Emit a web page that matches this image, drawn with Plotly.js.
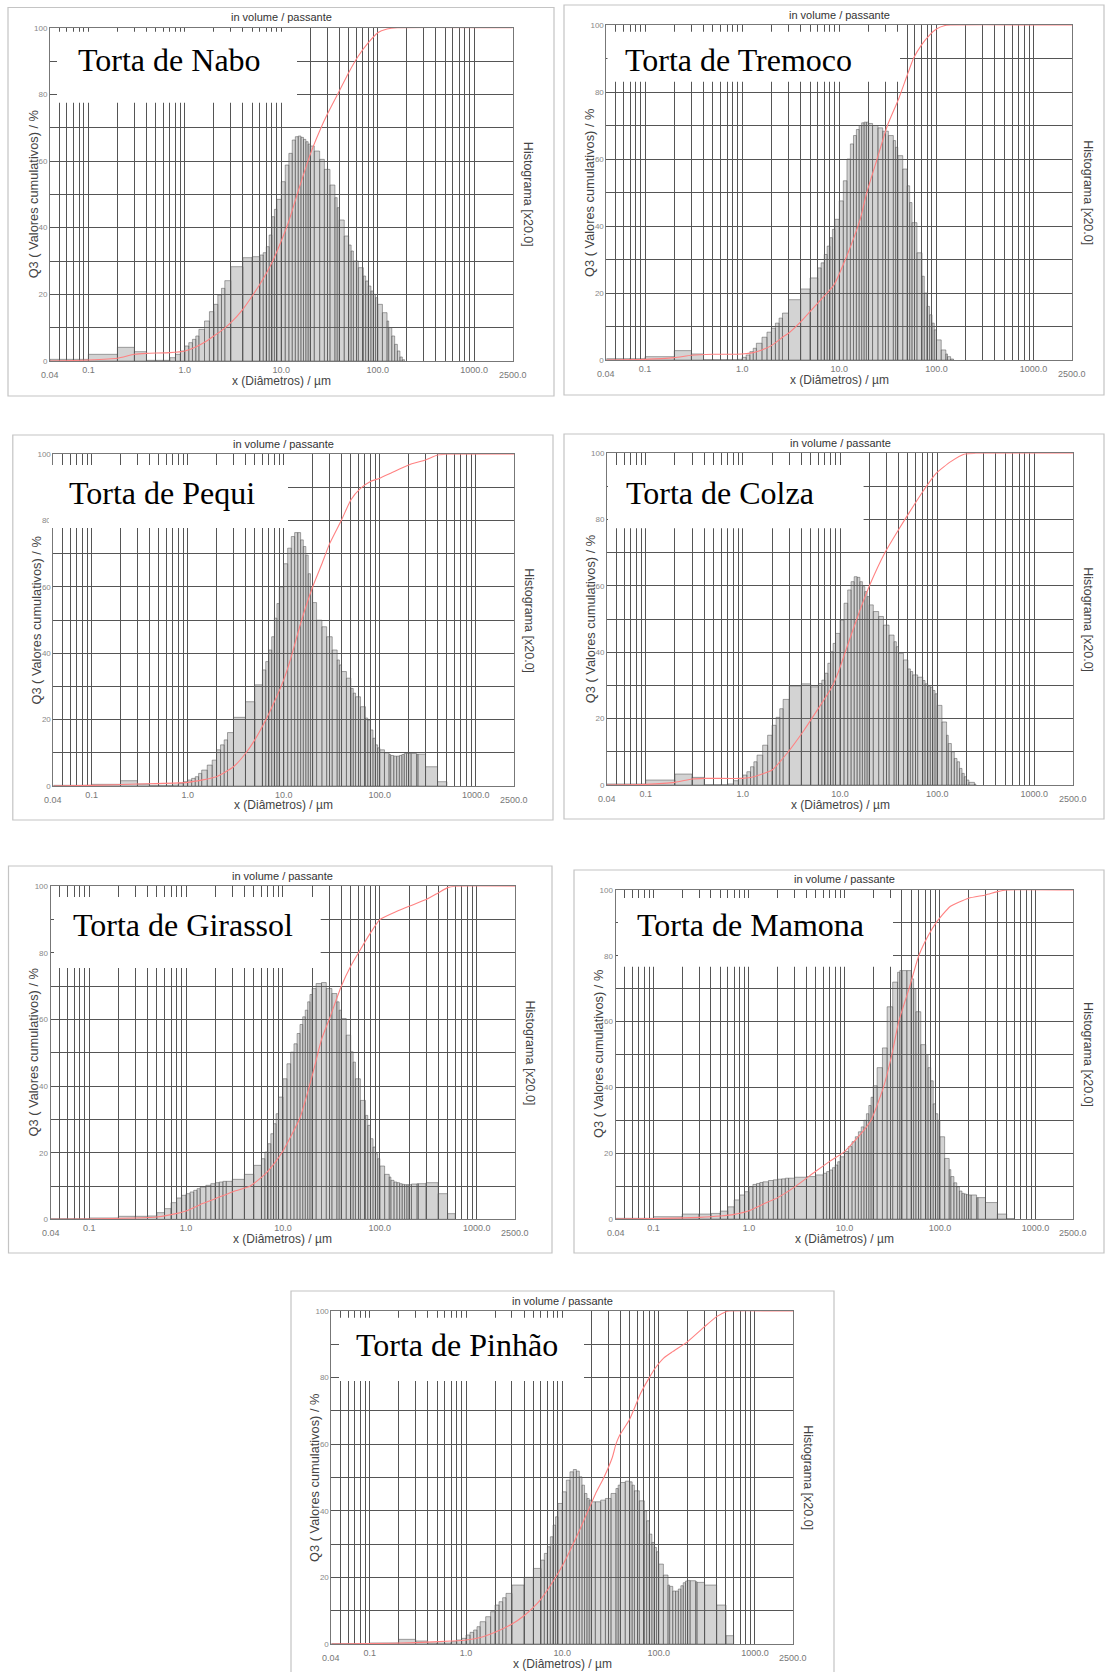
<!DOCTYPE html>
<html><head><meta charset="utf-8">
<script src="https://cdn.plot.ly/plotly-3.0.1.min.js"></script>
<style>html,body{margin:0;padding:0;background:#fff}#chart{width:1107px;height:1672px}</style>
</head><body><div id="chart"></div>
<script>
// ---------------- DATA ----------------
// class edges of the particle-size histogram (µm)
const classEdges = [0.04,0.07,0.1,0.2,0.3,0.4,0.5,0.6,0.7,0.8,0.9,1.0,1.1,1.2,1.3,1.4,1.6,1.8,2.0,2.2,2.4,2.6,3.0,4.0,5.0,6.0,6.5,7.0,7.5,8.0,8.5,9.0,10,11,12,13,14,15,16,17,18,19,20,22,25,28,32,36,38,40,45,50,53,56,63,71,75,80,85,90,95,100,112,125,130,140,150,160,170,180,190,200,212,242,250,300,400,500,600,700];
// vertical grid lines and x tick labels
const gridSizes = [0.05,0.06,0.07,0.08,0.09,0.2,0.3,0.4,0.5,0.6,0.7,0.8,0.9,2,3,4,5,6,7,8,9,20,30,40,50,60,70,80,90,200,300,400,500,600,700,800,900];
const majorTickVals = [0.1,1,10,100,1000];
const majorTickText = ['0.1','1.0','10.0','100.0','1000.0'];
const yTickVals = [0,10,20,30,40,50,60,70,80,90,100];
const yTickText = ['0','','20','','40','','60','','80','','100'];
const panelNames = ['Torta de Nabo','Torta de Tremoco','Torta de Pequi','Torta de Colza','Torta de Girassol','Torta de Mamona','Torta de Pinhão'];

// histogram heights (x20 scale) per class
const histNabo = [0.5,0.5,2.0,4.1,2.8,0.2,0.2,0.2,1.0,2.0,3.0,
 4.5,5.5,6.5,7.5,9.5,12,14.8,17,19.8,21.8,24.1,
 28.3,31,31.3,31.8,32.5,34.3,37.8,43.3,45.5,48.5,
 53.8,58.8,62.3,66.3,67.3,67.5,67.1,66.5,65.8,65.1,
 64.5,63,60.5,57.5,52.8,49,46,42.3,37.5,34.8,33,30,
 28,25.5,24,22.5,21,20,19,
 17,14.5,12,10,7.5,5,3,1.2,0.4,0,
 0,0,0,0,0,0,0,0];
const histTremoco = [0.4,0.4,1.0,2.8,1.8,0.1,0.1,0.1,0.1,0.1,0.2,
 0.8,1.5,2.5,3.5,5,6.8,8.3,9.5,11,12.5,14,
 18,21.2,24.5,27.5,29,31.5,34,36.5,39,42,
 47.5,53.5,60,64.5,67,68.8,70,70.8,71,71,
 70.6,70,69.3,68.3,67,65.5,63.5,61,57,52,47,41,
 32,25,20,16,13.5,11,9,
 6,3,1.8,1,0.3,0,0,0,0,0,
 0,0,0,0,0,0,0,0];
const histPequi = [0.2,0.2,0.5,1.6,0.6,0.2,0.2,0.2,0.3,0.8,1.3,
 1.8,2.3,2.8,3.8,4.8,6.3,7.8,10.9,12.4,13.9,16.1,
 20.7,25.4,30.5,35,37.5,41,45,50.6,55,60,
 67,71.7,75.2,76.4,76.4,74.2,72.2,69.6,64,60,
 55.3,50,48,45,41,38,36.5,34.5,32.5,29.4,28,26.9,
 23.9,20.5,19.9,16.9,14.4,12.4,11.5,
 10.9,10,9.5,9.2,9,9,9.2,9.5,9.8,9.8,
 9.8,9.8,9.6,9.6,5.8,1.3,0,0];
const histColza = [0.3,0.3,1.5,3.3,2.3,0.1,0.1,0.1,0.3,1.3,2.0,
 3.0,4.0,5.5,7,9,12,15,18,20.4,23,25.8,
 29.8,30.5,29.6,30.6,31.6,33.7,36.7,40.2,42.7,45.7,
 49.7,54.8,58.8,61.3,62.8,62.6,61.3,59.8,58.3,56.8,
 54.3,52.3,50.8,48.2,45.2,43.2,41.7,39.7,37.7,35,34.2,33.2,
 32.5,31.5,30.5,29.8,29.5,28.5,27.5,
 24,19,15,12.5,10,8,7,5,3.5,2.5,
 1.5,0.8,0.3,0,0,0,0,0];
const histGirassol = [0.2,0.2,0.4,0.9,0.9,1.0,2.0,3.2,5.0,6.4,7.2,
 7.7,8.2,8.7,9.2,9.7,10.2,10.7,11,11.2,11.4,11.4,
 12,13.5,16.2,18.2,20.2,22.7,25.7,28.7,31.7,36.7,
 42.2,46.7,50.2,52.7,55.8,58.5,60.8,62.8,65.3,67.5,
 69.3,70.8,71.1,69.3,67.8,65.3,62.8,60.3,55.3,50.3,47.2,42.2,
 35.7,31.2,28.2,24.2,21.7,19.7,18.2,
 16,13.5,12.7,11.7,11.2,11,10.7,10.5,10.4,10.4,
 10.4,10.6,10.7,10.7,11,7.7,1.7,0];
const histMamona = [0.2,0.2,0.7,1.5,1.5,1.7,2.4,3.7,5.8,7.3,8.3,
 9.8,10.5,10.8,11.1,11.3,11.7,11.9,12.1,12.2,12.4,12.4,
 12.7,12.9,13.4,13.9,14.4,14.9,15.6,16.4,17.4,18.9,
 20.5,22,23.5,25,26.5,28,30,32,34.5,37,
 40.5,46,52,64.5,72,75,75.5,75.5,75.5,73,70,63,
 53,50,46,42,35,32,30,
 25,18.4,15,12.9,11,9.8,8.5,7.8,7.6,7.4,
 7.3,7.3,6.5,6.5,5,1.5,0.1,0];
const histPinhao = [0.1,0.1,0.3,1.4,0.9,0.3,0.3,0.3,0.7,1.2,1.7,
 2.7,3.5,4.2,5.2,6.7,8.2,9.7,11.7,12.7,13.9,15.2,
 17.7,20,22.7,25.2,27.2,29.2,32.2,35.7,38.2,42.2,
 45.7,49.2,51.7,52.4,51.9,50.2,47.7,45.2,43.7,43.2,
 42.7,42.7,43.2,43.7,45.2,46.7,47.7,48.5,48.9,48.7,47.7,46,
 43,40,37,33,30.5,29,27.7,
 24,20.7,17.7,17.3,15.9,15.9,16.5,17.5,18.4,18.9,
 19.1,19.0,18.7,18.5,17.7,11.7,2.5,0];

// cumulative curves Q3 (%) read at these sizes (µm)
const cumNaboSize = [0.04,0.1,0.2,0.3,0.4,0.7,1.0,1.3,1.6,2.0,2.5,3.0,4.0,5.0,6.0,8.0,10,12,15,20,25,30,40,50,63,80,100,125,160,2500];
const cumNaboQ3   = [0,0.3,0.8,2.0,2.3,2.5,3.0,4.2,5.6,7.5,9.5,11.5,15.5,19.5,23,29.5,36,42,51,62,69,74,81,86.5,91.5,95.5,98.5,99.6,100,100];
const cumTremocoSize = [0.04,0.1,0.2,0.3,0.5,1.0,1.3,1.6,2.0,2.67,3,4,6,8.76,12,16.4,19.2,24.5,31.3,40.9,50,58,70,85,100,120,140,2500];
const cumTremocoQ3   = [0,0.2,0.7,1.4,1.7,1.8,2.2,3.0,4.3,7.0,8,11.4,17,22.3,31.2,42,50,60,70,78,85,90,94,97,98.8,99.8,100,100];
const cumPequiSize = [0.04,0.1,0.3,1.0,2.0,3,4,5,6.5,8,10,12,15,20,25,30,40,50,63,80,100,130,200,300,400,500,2500];
const cumPequiQ3   = [0,0.2,0.6,1.1,2.8,5.8,9.8,13.9,19.9,25.4,32,39,49,60,67,73,80.2,86.2,89.7,91.8,92.8,94.3,96.8,98.3,99.8,100,100];
const cumColzaSize = [0.04,0.1,0.2,0.3,0.4,1.0,1.3,2.0,2.84,4.28,6.47,8.3,9.8,12.5,16.1,20.6,28.7,39.9,51,71,98,138,192,250,2500];
const cumColzaQ3   = [0,0.2,0.8,1.8,2.0,2.0,2.5,4.5,9.5,16.6,24.6,29.6,34.7,43.7,52.8,60.8,69.8,76.9,81.9,88.4,94,97.5,99.8,100,100];
const cumGirassolSize = [0.04,0.1,0.3,0.5,0.7,1.0,1.5,2,3,4.6,6.5,8,10,15,20,25,30,40,50,63,80,100,150,200,300,400,500,600,2500];
const cumGirassolQ3   = [0,0.1,0.4,0.7,1.4,2.5,4.8,6.2,8.2,10,13.5,16.5,20.5,30.5,43,54,60,70,76,81,86,90,92.5,94,96,98,99.6,100,100];
const cumMamonaSize = [0.04,0.1,0.3,0.5,0.7,1.0,1.4,2,3.1,5,7,10,15,19,25.6,31.4,37,47.5,60,75,91,128,200,300,400,500,2500];
const cumMamonaQ3   = [0,0.1,0.5,0.9,1.4,2.5,4.5,6.5,10,14.5,17.5,20.5,26,30,40,50,60,70,80,86,90,95,97.5,98.5,99.5,100,100];
const cumPinhaoSize = [0.04,0.1,0.3,0.7,1.0,1.5,2,3,4,5,6,8.3,10,12,15,18.5,22,27,33,36,39,50,65,80,92,112,140,200,300,400,500,540,2500];
const cumPinhaoQ3   = [0,0.1,0.4,0.9,1.2,2.2,3.5,6,8.5,11,13.5,19.5,23.5,28,34,40,45,50,56,60,62.5,67.5,75.3,80,82.8,85.8,87.8,90.8,95.3,98.3,99.8,100,100];

// ---------------- LAYOUT GEOMETRY (pixels) ----------------
const W = 1107, H = 1672;
const panels = [
  {hist: histNabo, cx: cumNaboSize, cy: cumNaboQ3,
   plot:[50,27.7,512.5,361], border:[8,7.5,554,396], box:[57,31.7,297,102.7], title:[78,71]},
  {hist: histTremoco, cx: cumTremocoSize, cy: cumTremocoQ3,
   plot:[606.4,25,1072.2,360], border:[564,5,1104,395], box:[607.5,31.7,900,81.7], title:[624.5,71]},
  {hist: histPequi, cx: cumPequiSize, cy: cumPequiQ3,
   plot:[53.4,454.3,514,786], border:[12.8,435,553,820], box:[49,465,288,528], title:[69,504]},
  {hist: histColza, cx: cumColzaSize, cy: cumColzaQ3,
   plot:[607,453.3,1073,785], border:[564,434,1104,819], box:[608,465,863.6,528.3], title:[626,504]},
  {hist: histGirassol, cx: cumGirassolSize, cy: cumGirassolQ3,
   plot:[50.6,886.3,515.3,1219.3], border:[8.5,866,552,1253], box:[54,897,320.7,968], title:[73.4,936]},
  {hist: histMamona, cx: cumMamonaSize, cy: cumMamonaQ3,
   plot:[615.5,890,1073.4,1219], border:[574,870,1104,1253], box:[618,898,893,966.7], title:[636.8,935.7]},
  {hist: histPinhao, cx: cumPinhaoSize, cy: cumPinhaoQ3,
   plot:[331.4,1311,793.3,1644], border:[291,1291,834,1690], box:[339,1317.7,584,1381], title:[356,1355.7]}
];

const px = v => v / W;
const py = v => 1 - v / H;

// x ticks: grid + major labels
const allTicks = gridSizes.map(v => ({v, t: ''}))
  .concat(majorTickVals.map((v, i) => ({v, t: majorTickText[i]})))
  .sort((a, b) => a.v - b.v);
const xTickVals = allTicks.map(o => o.v);
const xTickText = allTicks.map(o => o.t);

const traces = [];
const layout = {
  width: W, height: H,
  margin: {l: 0, r: 0, t: 0, b: 0},
  paper_bgcolor: '#ffffff', plot_bgcolor: '#ffffff',
  showlegend: false, hovermode: false,
  font: {family: 'Liberation Sans, Arial, sans-serif'},
  shapes: [], annotations: []
};

const sans = 'Liberation Sans, Arial, sans-serif';

panels.forEach((p, i) => {
  const n = i === 0 ? '' : String(i + 1);
  const xa = 'x' + n, ya = 'y' + n;
  const [L, T, R, B] = p.plot;

  // histogram bars as closed rectangles
  const hx = [], hy = [];
  p.hist.forEach((h, k) => {
    if (h <= 0) return;
    const e0 = classEdges[k], e1 = classEdges[k + 1];
    hx.push(e0, e0, e1, e1, e0, null);
    hy.push(0, h, h, 0, 0, null);
  });
  traces.push({
    type: 'scatter', mode: 'lines', x: hx, y: hy, xaxis: xa, yaxis: ya,
    fill: 'toself', fillcolor: 'rgba(120,120,120,0.33)',
    line: {color: 'rgba(85,85,85,0.65)', width: 0.8}, hoverinfo: 'skip'
  });
  // cumulative curve
  traces.push({
    type: 'scatter', mode: 'lines', x: p.cx, y: p.cy, xaxis: xa, yaxis: ya,
    line: {color: '#ff8282', width: 1.1, shape: 'spline', smoothing: 0.5}, hoverinfo: 'skip'
  });

  layout['xaxis' + n] = {
    type: 'log', range: [Math.log10(0.04), Math.log10(2500)],
    domain: [px(L), px(R)], anchor: ya,
    tickmode: 'array', tickvals: xTickVals, ticktext: xTickText,
    showgrid: true, gridcolor: '#555555', gridwidth: 1,
    showline: true, linecolor: '#777777', linewidth: 1, mirror: true,
    ticks: '', zeroline: false, fixedrange: true,
    tickfont: {family: sans, size: 9, color: '#777777'}
  };
  layout['yaxis' + n] = {
    range: [0, 100], domain: [py(B), py(T)], anchor: xa,
    tickmode: 'array', tickvals: yTickVals, ticktext: yTickText,
    showgrid: true, gridcolor: '#555555', gridwidth: 1,
    showline: true, linecolor: '#777777', linewidth: 1, mirror: true,
    ticks: '', zeroline: false, fixedrange: true,
    tickfont: {family: sans, size: 8, color: '#888888'}
  };

  // panel border
  const [bl, bt, br, bb] = p.border;
  layout.shapes.push({type: 'rect', xref: 'paper', yref: 'paper', layer: 'below',
    x0: px(bl), x1: px(br), y0: py(bb), y1: py(bt),
    line: {color: '#c4c4c4', width: 1.2}, fillcolor: 'rgba(0,0,0,0)'});
  // white title box
  const [tl, tt, tr, tb] = p.box;
  layout.shapes.push({type: 'rect', xref: 'paper', yref: 'paper', layer: 'above',
    x0: px(tl), x1: px(tr), y0: py(tb), y1: py(tt),
    line: {width: 0}, fillcolor: '#ffffff'});

  const cxm = (L + R) / 2, cym = (T + B) / 2;
  const A = layout.annotations;
  A.push({xref: 'paper', yref: 'paper', x: px(p.title[0] - 2), y: py(p.title[1] - 10.8),
    xanchor: 'left', yanchor: 'middle', showarrow: false, text: panelNames[i],
    font: {family: 'Liberation Serif, Times New Roman, serif', size: 32, color: '#000'}});
  A.push({xref: 'paper', yref: 'paper', x: px(cxm), y: py(T - 10.5),
    xanchor: 'center', yanchor: 'middle', showarrow: false, text: 'in volume / passante',
    font: {family: sans, size: 11, color: '#333'}});
  A.push({xref: 'paper', yref: 'paper', x: px(cxm), y: py(B + 19.5),
    xanchor: 'center', yanchor: 'middle', showarrow: false, text: 'x (Diâmetros) / µm',
    font: {family: sans, size: 12, color: '#444'}});
  A.push({xref: 'paper', yref: 'paper', x: px(L - 17), y: py(cym),
    xanchor: 'center', yanchor: 'middle', showarrow: false, textangle: -90,
    text: 'Q3 ( Valores cumulativos) / %', font: {family: sans, size: 12.8, color: '#444'}});
  A.push({xref: 'paper', yref: 'paper', x: px(R + 15), y: py(cym),
    xanchor: 'center', yanchor: 'middle', showarrow: false, textangle: 90,
    text: 'Histograma [x20.0]', font: {family: sans, size: 12.5, color: '#444'}});
  A.push({xref: 'paper', yref: 'paper', x: px(L), y: py(B + 14),
    xanchor: 'center', yanchor: 'middle', showarrow: false, text: '0.04',
    font: {family: sans, size: 9, color: '#777'}});
  A.push({xref: 'paper', yref: 'paper', x: px(R), y: py(B + 14),
    xanchor: 'center', yanchor: 'middle', showarrow: false, text: '2500.0',
    font: {family: sans, size: 9, color: '#777'}});
});

Plotly.newPlot('chart', traces, layout, {staticPlot: true, displayModeBar: false});
</script>
</body></html>
